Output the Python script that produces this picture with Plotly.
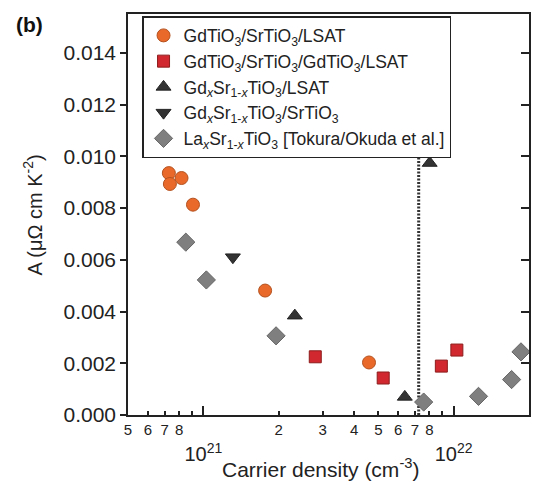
import math
import plotly.graph_objects as go

# ---- data ----
gto_sto_lsat_n = [7.28e20, 8.18e20, 7.35e20, 9.09e20, 1.765e21, 4.59e21]
gto_sto_lsat_A = [0.00935, 0.00916, 0.00893, 0.00813, 0.00481, 0.00203]

gto_sto_gto_n = [2.80e21, 5.23e21, 8.93e21, 1.03e22]
gto_sto_gto_A = [0.00225, 0.00143, 0.00189, 0.00251]

gdsto_lsat_n = [2.32e21, 6.38e21, 8.02e21]
gdsto_lsat_A = [0.00384, 0.00070, 0.00974]

gdsto_sto_n = [1.312e21]
gdsto_sto_A = [0.00610]

lsto_n = [8.51e20, 1.028e21, 1.952e21, 7.59e21, 1.257e22, 1.704e22, 1.858e22]
lsto_A = [0.00668, 0.00522, 0.00306, 0.00050, 0.00072, 0.00137, 0.00244]

threshold_n = [7.25e21, 7.25e21]
threshold_A = [0.0, 0.0101]

x_min, x_max = 5e20, 2e22
y_min, y_max = 0.0, 0.0155

minor_tickvals = [5e20, 6e20, 7e20, 8e20, 9e20,
                  2e21, 3e21, 4e21, 5e21, 6e21, 7e21, 8e21, 9e21, 2e22]
minor_ticktext = ["5", "6", "7", "8", "", "2", "3", "4", "5", "6", "7", "8", "", "2"]
major_tickvals = [1e21, 1e22]
major_ticktext = ["10<sup>21</sup>", "10<sup>22</sup>"]
y_tickvals = [0.000, 0.002, 0.004, 0.006, 0.008, 0.010, 0.012, 0.014]

FONT = "Liberation Sans, Arial, sans-serif"
INK = "#222222"

fig = go.Figure()

fig.add_trace(go.Scatter(x=threshold_n, y=threshold_A, mode="lines",
                         line=dict(color="#333333", width=3, dash="2px,1.5px"),
                         showlegend=False, hoverinfo="skip"))

fig.add_trace(go.Scatter(
    x=gto_sto_lsat_n, y=gto_sto_lsat_A, mode="markers",
    name="GdTiO<sub>3</sub>/SrTiO<sub>3</sub>/LSAT",
    marker=dict(symbol="circle", size=13, color="#E9692B",
                line=dict(color="#B4521F", width=1))))
fig.add_trace(go.Scatter(
    x=gto_sto_gto_n, y=gto_sto_gto_A, mode="markers",
    name="GdTiO<sub>3</sub>/SrTiO<sub>3</sub>/GdTiO<sub>3</sub>/LSAT",
    marker=dict(symbol="square", size=12, color="#D0282E",
                line=dict(color="#8E1D1D", width=1))))
fig.add_trace(go.Scatter(
    x=gdsto_lsat_n, y=gdsto_lsat_A, mode="markers",
    name="Gd<sub><i>x</i></sub>Sr<sub>1-<i>x</i></sub>TiO<sub>3</sub>/LSAT",
    marker=dict(symbol="triangle-up", size=13, color="#333333",
                line=dict(color="#222222", width=1))))
fig.add_trace(go.Scatter(
    x=gdsto_sto_n, y=gdsto_sto_A, mode="markers",
    name="Gd<sub><i>x</i></sub>Sr<sub>1-<i>x</i></sub>TiO<sub>3</sub>/SrTiO<sub>3</sub>",
    marker=dict(symbol="triangle-down", size=13, color="#333333",
                line=dict(color="#222222", width=1))))
fig.add_trace(go.Scatter(
    x=lsto_n, y=lsto_A, mode="markers",
    name="La<sub><i>x</i></sub>Sr<sub>1-<i>x</i></sub>TiO<sub>3</sub> [Tokura/Okuda et al.]",
    marker=dict(symbol="diamond", size=14, color="#7F7F7F",
                line=dict(color="#666666", width=1))))

# empty trace so the overlay axes (long decade ticks / right ticks) get drawn
fig.add_trace(go.Scatter(x=[], y=[], xaxis="x2", yaxis="y2",
                         showlegend=False, hoverinfo="skip"))

xr = [math.log10(x_min), math.log10(x_max)]

fig.update_layout(
    width=533, height=489,
    margin=dict(l=128, r=2, t=14, b=74),
    paper_bgcolor="white", plot_bgcolor="white",
    font=dict(family=FONT, color=INK),
    xaxis=dict(type="log", range=xr, tickmode="array",
               tickvals=minor_tickvals, ticktext=minor_ticktext,
               ticks="inside", ticklen=4, tickwidth=1.5, tickcolor=INK,
               showline=True, linecolor=INK, linewidth=1.5, mirror=True,
               showgrid=False, zeroline=False,
               tickfont=dict(size=15, family=FONT, color=INK)),
    xaxis2=dict(type="log", range=xr, overlaying="x", anchor="y", side="bottom",
                tickmode="array", tickvals=major_tickvals, ticktext=major_ticktext,
                ticks="inside", ticklen=9, tickwidth=1.5, tickcolor=INK,
                showline=False, showgrid=False, zeroline=False,
                ticklabelstandoff=25,
                tickfont=dict(size=20, family=FONT, color=INK)),
    yaxis=dict(range=[y_min, y_max], tickmode="array", tickvals=y_tickvals,
               tickformat=".3f",
               ticks="outside", ticklen=6, tickwidth=1.5, tickcolor=INK,
               showline=True, linecolor=INK, linewidth=1.5, mirror=True,
               showgrid=False, zeroline=False,
               tickfont=dict(size=21, family=FONT, color=INK)),
    yaxis2=dict(range=[y_min, y_max], overlaying="y", anchor="x", side="right",
                tickmode="array", tickvals=y_tickvals,
                ticks="inside", ticklen=8, tickwidth=1.5, tickcolor=INK,
                showticklabels=False, showline=False, showgrid=False, zeroline=False),
    legend=dict(x=0.035, y=0.995, xanchor="left", yanchor="top",
                bgcolor="white", bordercolor=INK, borderwidth=1.5,
                font=dict(size=17.5, family=FONT, color=INK),
                itemsizing="trace"),
    annotations=[
        dict(text="<b>(b)</b>", xref="paper", yref="paper", x=-0.2458, y=0.975,
             showarrow=False, font=dict(size=21, family=FONT, color="#111111"),
             xanchor="center", yanchor="middle"),
        dict(text="A (μΩ cm K<sup>-2</sup>)", xref="paper", yref="paper",
             x=-0.2384, y=0.4984, textangle=-90, showarrow=False,
             font=dict(size=20, family=FONT, color=INK),
             xanchor="center", yanchor="middle"),
        dict(text="Carrier density (cm<sup>-3</sup>)", xref="paper", yref="paper",
             x=0.479, y=-0.133, showarrow=False,
             font=dict(size=21, family=FONT, color=INK),
             xanchor="center", yanchor="middle"),
    ],
)

fig.write_html("out.html")
